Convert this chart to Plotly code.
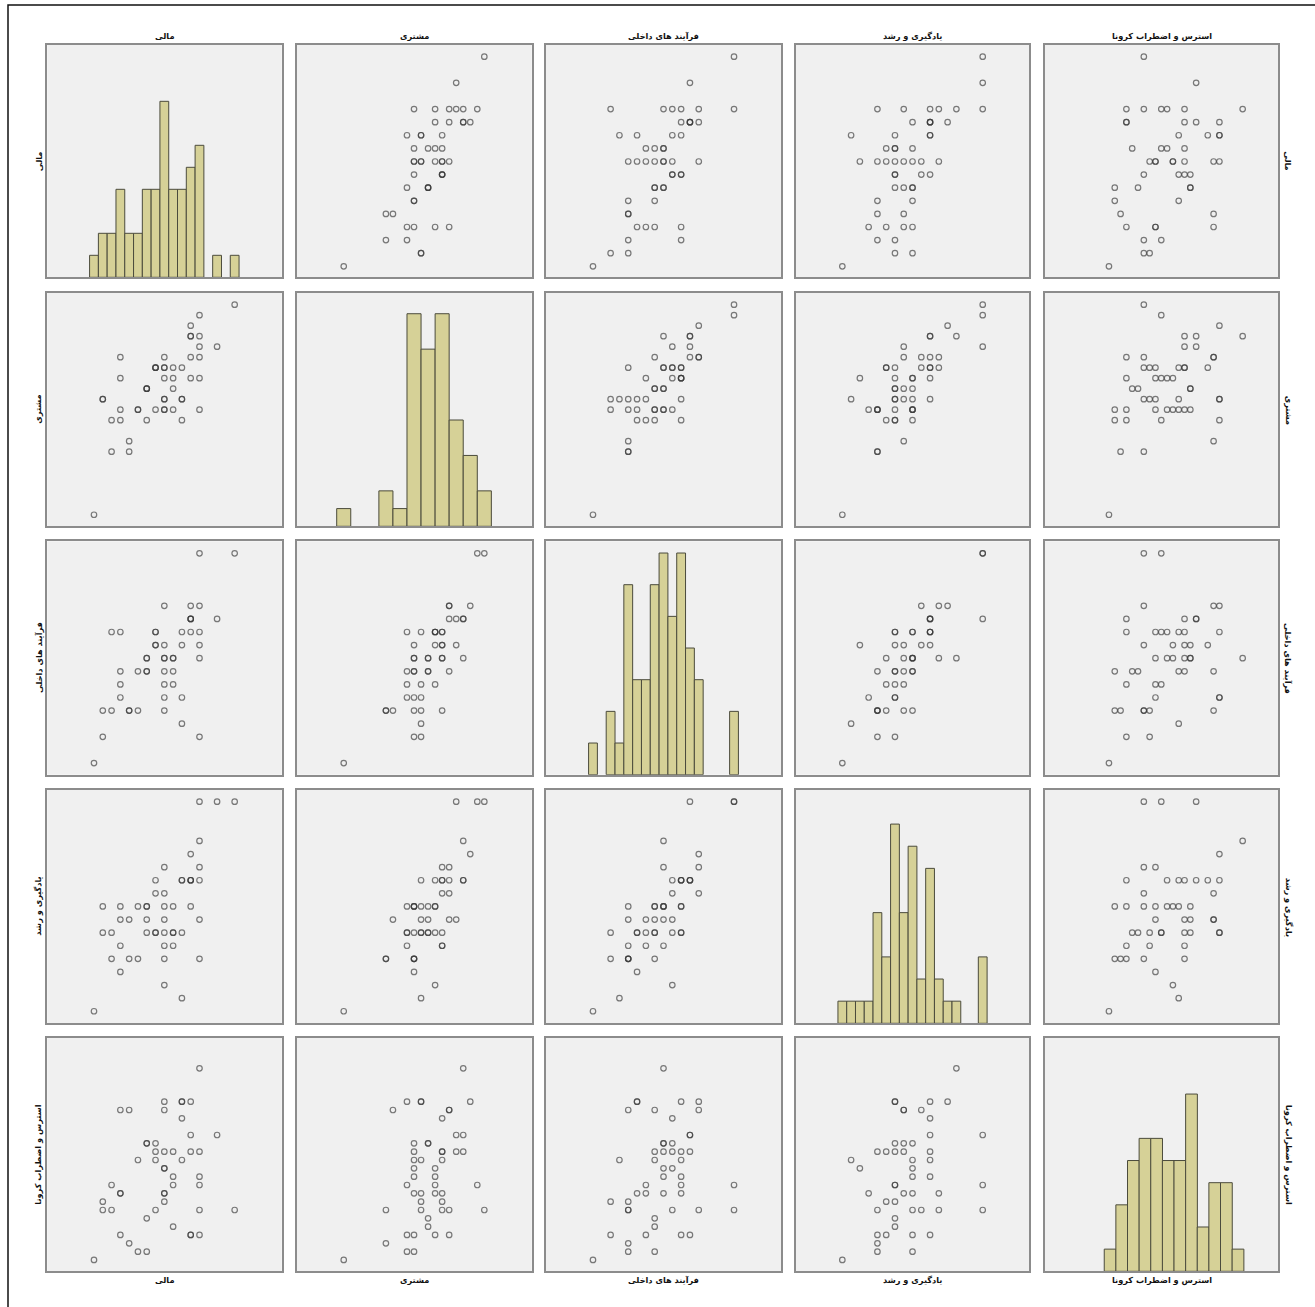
import plotly.graph_objects as go

# ---------------- data ----------------
var_names = ["مالی", "مشتری", "فرآیند های داخلی", "یادگیری و رشد", "استرس و اضطراب کرونا"]

# observations sorted by the first variable of each pair (scale units)
mali_sorted = [16, 14, 12, 12, 12, 12, 12, 12, 11, 11, 11, 11, 11, 10, 10, 10, 10, 9, 9, 9, 9,
               8, 8, 8, 8, 8, 8, 8, 8, 7, 7, 7, 7, 6, 6, 6, 6, 5, 5, 4, 4, 3, 3, 3, 3, 2, 2, 1, 1, 0]
moshtari_for_mali = [20, 16, 10, 13, 15, 16, 17, 19, 13, 15, 17, 17, 18, 9, 11, 11, 14, 10, 12, 13, 14,
                     10, 10, 11, 11, 13, 14, 14, 15, 10, 14, 14, 14, 9, 12, 12, 12, 10, 10, 6, 7, 9, 10, 13, 15, 6, 9, 11, 11, 0]
faraind_for_mali = [16, 11, 2, 8, 9, 10, 12, 16, 10, 11, 11, 11, 12, 3, 5, 9, 10, 6, 7, 8, 8,
                    4, 5, 6, 7, 8, 8, 9, 12, 9, 9, 10, 10, 7, 7, 8, 8, 4, 7, 4, 4, 5, 6, 7, 10, 4, 10, 2, 4, 0]
yadgiri_for_mali = [16, 16, 4, 7, 10, 11, 13, 16, 8, 10, 10, 10, 12, 1, 6, 10, 10, 5, 6, 6, 8,
                    2, 4, 5, 6, 7, 8, 9, 11, 6, 6, 9, 10, 6, 7, 8, 8, 4, 8, 4, 7, 3, 5, 7, 8, 4, 6, 6, 8, 0]
stress_for_mali = [6, 15, 3, 6, 9, 10, 13, 23, 3, 3, 13, 15, 19, 12, 17, 19, 19, 4, 9, 10, 13,
                   7, 8, 8, 11, 11, 13, 18, 19, 6, 12, 13, 14, 1, 5, 14, 14, 1, 12, 2, 18, 3, 8, 8, 18, 6, 9, 6, 7, 0]

moshtari_sorted = [20, 19, 18, 17, 17, 17, 16, 16, 15, 15, 15, 15, 14, 14, 14, 14, 14, 14, 14,
                   13, 13, 13, 13, 13, 12, 12, 12, 12, 11, 11, 11, 11, 11, 11, 10, 10, 10, 10, 10, 10, 10, 10,
                   9, 9, 9, 9, 7, 6, 6, 0]
faraind_for_moshtari = [16, 16, 12, 8, 11, 11, 9, 11, 7, 11, 12, 12, 4, 8, 8, 9, 9, 10, 10,
                        6, 9, 10, 10, 10, 7, 7, 8, 8, 2, 3, 4, 5, 6, 10, 2, 4, 5, 7, 7, 8, 8, 9,
                        5, 6, 7, 10, 4, 4, 4, 0]
yadgiri_for_moshtari = [16, 16, 12, 10, 10, 13, 7, 16, 7, 9, 10, 11, 5, 5, 6, 9, 10, 10, 11,
                        2, 6, 8, 8, 10, 6, 6, 7, 8, 1, 6, 6, 7, 8, 10, 3, 4, 4, 4, 6, 8, 8, 8,
                        5, 6, 6, 8, 7, 4, 4, 0]
stress_for_moshtari = [6, 9, 19, 13, 15, 23, 13, 15, 3, 6, 18, 18, 6, 7, 8, 12, 13, 13, 17,
                       3, 8, 9, 10, 11, 4, 5, 14, 14, 6, 7, 8, 12, 19, 19, 1, 3, 8, 10, 11, 12, 13, 14,
                       1, 3, 9, 19, 18, 2, 6, 0]

faraind_sorted = [16, 16, 12, 12, 12, 11, 11, 11, 11, 10, 10, 10, 10, 10, 10, 10, 9, 9, 9, 9, 9,
                  8, 8, 8, 8, 8, 8, 8, 7, 7, 7, 7, 7, 7, 6, 6, 6, 5, 5, 5, 4, 4, 4, 4, 4, 4, 3, 2, 2, 0]
yadgiri_for_faraind = [16, 16, 9, 11, 12, 10, 10, 10, 16, 6, 6, 8, 8, 10, 10, 10, 2, 6, 7, 9, 10,
                       5, 7, 8, 8, 8, 11, 13, 4, 6, 6, 7, 8, 8, 5, 6, 7, 3, 6, 6, 4, 4, 4, 5, 7, 8, 1, 4, 6, 0]
stress_for_faraind = [6, 9, 6, 18, 19, 3, 13, 15, 15, 3, 8, 9, 10, 12, 13, 19, 6, 11, 13, 14, 17,
                      8, 10, 11, 13, 14, 14, 23, 1, 4, 5, 12, 13, 18, 3, 8, 9, 8, 19, 19, 1, 2, 6, 6, 7, 18, 12, 3, 7, 0]

yadgiri_sorted = [16, 16, 16, 13, 12, 11, 11, 10, 10, 10, 10, 10, 10, 10, 9, 9, 8, 8, 8, 8, 8, 8, 8, 8,
                  7, 7, 7, 7, 7, 6, 6, 6, 6, 6, 6, 6, 6, 6, 5, 5, 5, 4, 4, 4, 4, 4, 3, 2, 1, 0]
stress_for_yadgiri = [6, 9, 15, 23, 19, 6, 8, 3, 10, 12, 13, 15, 17, 19, 6, 18, 1, 3, 6, 8, 10, 11, 12, 14,
                      8, 13, 14, 18, 18, 4, 5, 7, 9, 9, 13, 14, 19, 19, 3, 7, 13, 1, 2, 3, 6, 13, 8, 11, 12, 0]

# histograms (bin centre, count)
hist_mali_bins = [0, 1, 2, 3, 4, 5, 6, 7, 8, 9, 10, 11, 12, 14, 16]
hist_mali_counts = [1, 2, 2, 4, 2, 2, 4, 4, 8, 4, 4, 5, 6, 1, 1]
hist_moshtari_bins = [0, 6, 8, 10, 12, 14, 16, 18, 20]
hist_moshtari_counts = [1, 2, 1, 12, 10, 12, 6, 4, 2]
hist_faraind_bins = [0, 2, 3, 4, 5, 6, 7, 8, 9, 10, 11, 12, 16]
hist_faraind_counts = [1, 2, 1, 6, 3, 3, 6, 7, 5, 7, 4, 3, 2]
hist_yadgiri_bins = [0, 1, 2, 3, 4, 5, 6, 7, 8, 9, 10, 11, 12, 13, 16]
hist_yadgiri_counts = [1, 1, 1, 1, 5, 3, 9, 5, 8, 2, 7, 2, 1, 1, 3]
hist_stress_bins = [0.2, 2.2, 4.2, 6.2, 8.2, 10.2, 12.2, 14.2, 16.2, 18.2, 20.2, 22.2]
hist_stress_counts = [1, 3, 5, 6, 6, 5, 5, 8, 2, 4, 4, 1]

# ---------------- structure ----------------
sorted_vals = [mali_sorted, moshtari_sorted, faraind_sorted, yadgiri_sorted]
partners = {
    (0, 1): moshtari_for_mali, (0, 2): faraind_for_mali, (0, 3): yadgiri_for_mali, (0, 4): stress_for_mali,
    (1, 2): faraind_for_moshtari, (1, 3): yadgiri_for_moshtari, (1, 4): stress_for_moshtari,
    (2, 3): yadgiri_for_faraind, (2, 4): stress_for_faraind,
    (3, 4): stress_for_yadgiri,
}
hists = [
    (hist_mali_bins, hist_mali_counts, 1.0),
    (hist_moshtari_bins, hist_moshtari_counts, 2.0),
    (hist_faraind_bins, hist_faraind_counts, 1.0),
    (hist_yadgiri_bins, hist_yadgiri_counts, 1.0),
    (hist_stress_bins, hist_stress_counts, 2.02),
]

x_ranges = [[-5.31, 21.35], [-6.69, 26.74], [-5.33, 21.33], [-5.28, 21.31], [-11.0, 29.13]]
y_ranges = [[-0.84, 16.89], [-1.1, 21.11], [-0.89, 16.92], [-0.92, 16.89], [-1.36, 26.64]]
hist_y_top = [10.56, 13.17, 7.37, 10.54, 10.53]

W, H = 1315, 1307
col_px = [(47.3, 281.7), (296.7, 531.7), (546, 781), (796, 1029.3), (1045, 1278.3)]
row_px = [(45, 277.3), (293, 526.3), (541.3, 774.7), (790, 1023.3), (1038, 1271.3)]

fig = go.Figure()
axis_common = dict(showgrid=False, zeroline=False, showticklabels=False, ticks="",
                   showline=True, mirror=True, linecolor="#8c8c8c", linewidth=1.5, fixedrange=True)

layout_axes = {}
for r in range(5):
    for c in range(5):
        k = r * 5 + c + 1
        xa = "x" if k == 1 else f"x{k}"
        ya = "y" if k == 1 else f"y{k}"
        xkey = "xaxis" if k == 1 else f"xaxis{k}"
        ykey = "yaxis" if k == 1 else f"yaxis{k}"
        layout_axes[xkey] = dict(axis_common, domain=[col_px[c][0] / W, col_px[c][1] / W],
                                 range=x_ranges[c], anchor=ya)
        if r == c:
            yrng = [0, hist_y_top[r]]
        else:
            yrng = y_ranges[r]
        layout_axes[ykey] = dict(axis_common, domain=[1 - row_px[r][1] / H, 1 - row_px[r][0] / H],
                                 range=yrng, anchor=xa)
        if r == c:
            bins, counts, w = hists[r]
            fig.add_trace(go.Bar(x=bins, y=counts, width=w, xaxis=xa, yaxis=ya,
                                 marker=dict(color="#d6d197", line=dict(color="#4b4b3c", width=1)),
                                 showlegend=False, hoverinfo="skip"))
        else:
            if r < c:
                yv = sorted_vals[r]
                xv = partners[(r, c)]
            else:
                xv = sorted_vals[c]
                yv = partners[(c, r)]
            fig.add_trace(go.Scatter(x=xv, y=yv, mode="markers", xaxis=xa, yaxis=ya,
                                     marker=dict(symbol="circle-open", size=5.5,
                                                 color="rgba(55,55,55,0.65)", line=dict(width=1.2)),
                                     showlegend=False, hoverinfo="skip"))

annotations = []
lab_font = dict(family="DejaVu Sans, Arial", size=8.2, color="#111111")
for i, name in enumerate(var_names):
    cx = (col_px[i][0] + col_px[i][1]) / 2 / W
    cy = 1 - (row_px[i][0] + row_px[i][1]) / 2 / H
    annotations.append(dict(text=f"<b>{name}</b>", x=cx, y=1 - 36.5 / H, xref="paper", yref="paper",
                            showarrow=False, font=lab_font, xanchor="center", yanchor="middle"))
    annotations.append(dict(text=f"<b>{name}</b>", x=cx, y=1 - 1280 / H, xref="paper", yref="paper",
                            showarrow=False, font=lab_font, xanchor="center", yanchor="middle"))
    annotations.append(dict(text=f"<b>{name}</b>", x=39 / W, y=cy, xref="paper", yref="paper",
                            showarrow=False, font=lab_font, textangle=-90, xanchor="center", yanchor="middle"))
    annotations.append(dict(text=f"<b>{name}</b>", x=1288 / W, y=cy, xref="paper", yref="paper",
                            showarrow=False, font=lab_font, textangle=90, xanchor="center", yanchor="middle"))

fig.update_layout(
    width=W, height=H, margin=dict(l=0, r=0, t=0, b=0),
    paper_bgcolor="white", plot_bgcolor="#f0f0f0",
    annotations=annotations,
    shapes=[dict(type="rect", xref="paper", yref="paper", x0=8 / W, x1=1330 / W, y0=-0.02, y1=1 - 5 / H,
                 line=dict(color="#111111", width=1.5), fillcolor="rgba(0,0,0,0)", layer="above")],
    **layout_axes,
)

fig.write_html("out.html", config={"displayModeBar": False},
               post_script="document.body.style.margin='0px';document.body.style.overflow='hidden';")
